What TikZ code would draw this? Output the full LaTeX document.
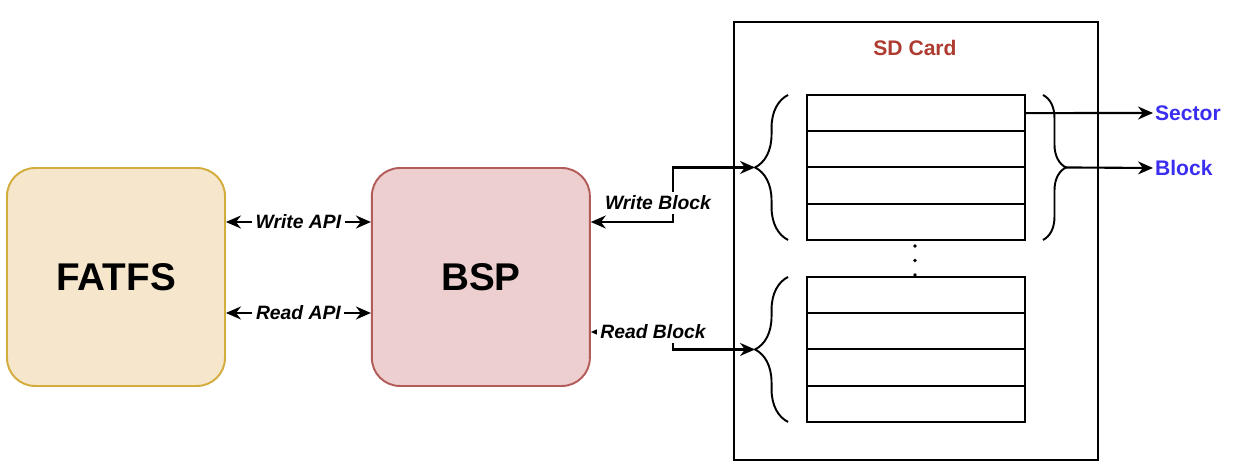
\documentclass[tikz,border=0pt]{standalone}
\usepackage{fontspec}
\setmainfont{Liberation Sans}
\usetikzlibrary{positioning, arrows.meta, decorations.pathreplacing}

\definecolor{fatfsfill}{HTML}{F5E6CC}
\definecolor{fatfsline}{HTML}{D3AC3C}
\definecolor{bspfill}{HTML}{EDCFCF}
\definecolor{bspline}{HTML}{B35B58}
\definecolor{cardred}{HTML}{AE3B30}
\definecolor{outblue}{HTML}{3A2EF0}

\begin{document}
\begin{tikzpicture}[x=0.02cm, y=-0.02cm,
	box/.style={draw, rounded corners=0.56cm, minimum size=4.36cm, line width=1.1pt, font=\bfseries\fontsize{22}{26}\selectfont},
	row/.style={draw, line width=1.1pt, minimum width=4.36cm, minimum height=0.725cm, inner sep=0pt, outer sep=0pt},
	lbl/.style={fill=white, inner sep=2pt, font=\bfseries\itshape\fontsize{11}{13}\selectfont},
	outlbl/.style={anchor=west, inner sep=1pt, text=outblue, font=\bfseries\fontsize{12}{14}\selectfont},
	tip/.style={line width=1.2pt, -{Stealth[length=0.3cm, width=0.26cm]}},
	tips/.style={line width=1.2pt, {Stealth[length=0.3cm, width=0.26cm]}-{Stealth[length=0.3cm, width=0.26cm]}},
	brc/.style={decorate, decoration={brace, amplitude=#1}, line width=1.1pt}]
	\useasboundingbox (0,0) rectangle (1234,475);

	\node[box, fill=fatfsfill, draw=fatfsline] (fatfs) at (116,277) {FATFS};
	\node[box, fill=bspfill, draw=bspline, right=2.9cm of fatfs] (bsp) {BSP};

	\node[draw, line width=1.2pt, minimum width=7.28cm, minimum height=8.76cm] (sd) at (916,241) {};
	\node[text=cardred, font=\bfseries\fontsize{12}{14}\selectfont] (title) at (915,48) {SD Card};

	\node[row] (u1) at (916,113.1) {};
	\node[row, below=0pt of u1] (u2) {};
	\node[row, below=0pt of u2] (u3) {};
	\node[row, below=0pt of u3] (u4) {};

	\node[row] (l1) at (916,295.1) {};
	\node[row, below=0pt of l1] (l2) {};
	\node[row, below=0pt of l2] (l3) {};
	\node[row, below=0pt of l3] (l4) {};

	\foreach \y in {246,260.5,275}
		\fill (915,\y) circle (1.8);

	\draw[brc=0.66cm] ([xshift=-0.38cm]u4.south west) -- ([xshift=-0.38cm]u1.north west);
	\draw[brc=0.66cm] ([xshift=-0.38cm]l4.south west) -- ([xshift=-0.38cm]l1.north west);
	\draw[brc=0.46cm] ([xshift=0.36cm]u1.north east) -- ([xshift=0.36cm]u4.south east);

	\coordinate (wtip) at ([xshift=-1.04cm]u2.south west);
	\coordinate (rtip) at ([xshift=-1.04cm]l2.south west);
	\coordinate (btip) at ([xshift=0.82cm]u2.south east);

	\node[outlbl] (sector) at (1153,113) {Sector};
	\node[outlbl] (block) at (1153,168) {Block};

	\draw[tips] ([yshift=1.1cm]fatfs.east) -- node[lbl] {Write API} ([yshift=1.1cm]bsp.west);
	\draw[tips] ([yshift=-0.72cm]fatfs.east) -- node[lbl] {Read API} ([yshift=-0.72cm]bsp.west);

	\draw[tips] ([yshift=1.1cm]bsp.east) -- ++(82,0) |- (wtip);
	\node[lbl] (wlabel) at (658,203) {Write Block};
	\draw[tips] ([yshift=-1.1cm]bsp.east) -- ++(82,0) |- (rtip);
	\node[lbl] (rlabel) at (653,332) {Read Block};

	\draw[tip] (u1.east) -- (sector.west);
	\draw[tip] (btip) -- (block.west);
\end{tikzpicture}
\end{document}
